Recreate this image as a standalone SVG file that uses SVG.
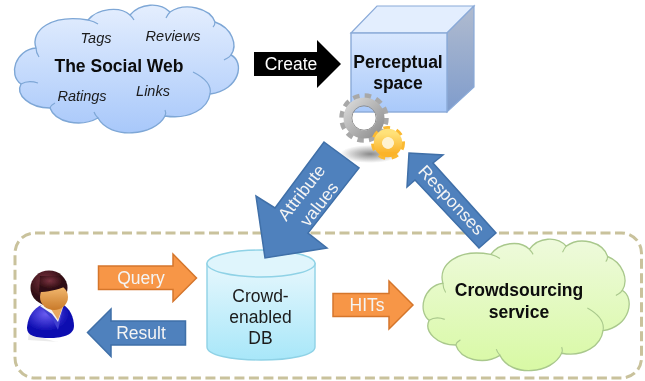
<svg xmlns="http://www.w3.org/2000/svg" width="645" height="381" viewBox="0 0 645 381">
<style>
text{font-family:"Liberation Sans",Arial,sans-serif;text-anchor:middle}
.b{font-weight:bold;font-size:17.5px;fill:#0a0a0a}
.i{font-style:italic;font-size:14.5px;fill:#1a1a1a}
.w{font-size:17.500px;fill:#f4f4f4}
.n{font-size:17.500px;fill:#1a1a1a}
.blue{fill:#4f81bd;stroke:#3f6fa8;stroke-width:1.5}
.or{fill:#f79646;stroke:#d5762c;stroke-width:1.5}
.crease{fill:none;stroke-width:1.2}
</style>
<defs>
<linearGradient id="cb" x1="0" y1="0" x2="0" y2="1"><stop offset="0" stop-color="#e4eefe"/><stop offset="1" stop-color="#a8c8fa"/></linearGradient>
<linearGradient id="cg" x1="0" y1="0" x2="0" y2="1"><stop offset="0" stop-color="#eefadc"/><stop offset="1" stop-color="#d8f9a4"/></linearGradient>
<linearGradient id="fr" x1="0" y1="0" x2="0" y2="1"><stop offset="0" stop-color="#d8e7fe"/><stop offset="1" stop-color="#a9c9fa"/></linearGradient>
<linearGradient id="sd" x1="0" y1="0" x2="0" y2="1"><stop offset="0" stop-color="#b0bbcf"/><stop offset="1" stop-color="#7f9ccc"/></linearGradient>
<linearGradient id="cy" x1="0" y1="0" x2="0" y2="1"><stop offset="0" stop-color="#e6f7fd"/><stop offset="1" stop-color="#a8e7f9"/></linearGradient>
<radialGradient id="sh"><stop offset="0" stop-color="#8a8a8a"/><stop offset="1" stop-color="#8a8a8a" stop-opacity="0"/></radialGradient>
<linearGradient id="gy" x1="0" y1="0" x2="1" y2="1"><stop offset="0" stop-color="#d8d8d8"/><stop offset="1" stop-color="#8f8f8f"/></linearGradient>
<linearGradient id="yl" x1="0" y1="0" x2="0" y2="1"><stop offset="0" stop-color="#ffe27a"/><stop offset="1" stop-color="#fbb32a"/></linearGradient>
<radialGradient id="hr" cx="0.4" cy="0.3"><stop offset="0" stop-color="#7a3340"/><stop offset="1" stop-color="#2e0c12"/></radialGradient>
<linearGradient id="fc" x1="0" y1="0" x2="0" y2="1"><stop offset="0" stop-color="#f7c078"/><stop offset="1" stop-color="#c97a2a"/></linearGradient>
<radialGradient id="bd" cx="0.4" cy="0.3"><stop offset="0" stop-color="#6a5cf0"/><stop offset="1" stop-color="#0c0cb0"/></radialGradient>
<filter id="soft" x="-5%" y="-5%" width="110%" height="110%"><feGaussianBlur stdDeviation="0.45"/></filter>
<path id="cloud" d="M36 48C30 30 52 14 88 20C98 8 120 6 130 15C140 3 160 2 170 12C185 2 210 8 215 22C232 28 238 45 231 55C245 62 240 90 210 94C208 108 190 120 165 116C155 136 110 140 98 118C80 128 55 122 50 108C30 108 15 95 21 84C8 75 15 50 36 48Z"/>
<path id="folds" d="M36 48C36 51 37 54 39 57M21 84C26 81 32 81 38 83M50 108C51 105 53 104 55 103M98 118C96 116 95 115 94 112M165 116C166 114 166 112 165 110M193 72C205 78 212 85 210 94M231 55C229 58 227 58 224 60M215 22C215 24 214 26 213 27M170 12C168 14 167 16 166 18M130 15C132 17 133 18 134 20M88 20C92 21 95 22 98 24"/>
</defs>
<g filter="url(#soft)">
<g id="boundary"><rect x="15" y="233" width="626.500" height="145" rx="20" fill="none" stroke="#c9c29c" stroke-width="3" stroke-dasharray="10 4.500"/></g>

<g id="social-web">
<use href="#cloud" fill="url(#cb)" stroke="#7ea7d6" stroke-width="1.400"/>
<use href="#folds" class="crease" stroke="#7ea7d6"/>
<text class="b" x="119" y="72">The Social Web</text>
<text class="i" x="96" y="43">Tags</text>
<text class="i" x="173" y="41">Reviews</text>
<text class="i" x="82" y="101">Ratings</text>
<text class="i" x="153" y="96">Links</text>
</g>

<g id="perceptual-space">
<path d="M351 33L377 6H474L447 33Z" fill="#e3eefe" stroke="#8aaad8" stroke-width="1.200"/>
<path d="M447 33L474 6V87L447 112Z" fill="url(#sd)" stroke="#8aaad8" stroke-width="1.200"/>
<rect x="351" y="33" width="96" height="79" fill="url(#fr)" stroke="#8aaad8" stroke-width="1.400"/>
<text class="b" x="398" y="68">Perceptual</text>
<text class="b" x="398" y="89">space</text>
</g>

<g id="gears">
<ellipse cx="370" cy="154" rx="30" ry="9" fill="url(#sh)"/>
<circle cx="364" cy="118" r="21.500" fill="none" stroke="#a8a8a8" stroke-width="6.500" stroke-dasharray="6.200 5.060"/>
<circle cx="364" cy="118" r="16.500" fill="none" stroke="url(#gy)" stroke-width="8"/>
<circle cx="364" cy="118" r="12.200" fill="none" stroke="#8f8f8f" stroke-width="1"/>
<circle cx="388" cy="143" r="14.500" fill="none" stroke="#fbb930" stroke-width="5" stroke-dasharray="6.400 6.300"/>
<circle cx="388" cy="143" r="10" fill="none" stroke="url(#yl)" stroke-width="8.500"/>
<circle cx="388" cy="143" r="5.700" fill="#fff3d0"/>
</g>

<g id="user">
<path d="M30 320C30 340 60 342 60 342L28 340Z" fill="#dcdcdc" opacity="0.6"/>
<path d="M27 328C28 312 38 306 44 304H62C70 308 74 318 74 326C74 336 60 338 50 338C36 338 27 336 27 328Z" fill="url(#bd)"/>
<path d="M40 306L53 320L58 330L64 304Z" fill="#3f3fd0"/>
<path d="M40 306L52 314L58 322L64 304L50 300Z" fill="#f4f4f4"/>
<path d="M49 306L58 320L63 306Z" fill="#e8a860"/>
<ellipse cx="49" cy="288" rx="18.500" ry="17.500" fill="url(#hr)"/>
<ellipse cx="54" cy="297" rx="14" ry="13" fill="url(#fc)"/>
<path d="M39 292C46 292 58 290 66 286L60 276H40Z" fill="url(#hr)"/>
</g>

<g id="crowd-db">
<path d="M207 263.500V347C207 355 231 360 261 360C291 360 315 355 315 347V263.500Z" fill="url(#cy)" stroke="#8fd2e6" stroke-width="1.400"/>
<ellipse cx="261" cy="263.500" rx="54" ry="13.500" fill="#dff5fc" stroke="#8fd2e6" stroke-width="1.400"/>
<text class="n" x="260.500" y="302">Crowd-</text>
<text class="n" x="260.500" y="323">enabled</text>
<text class="n" x="260.500" y="344">DB</text>
</g>

<g id="crowdsourcing-service">
<g transform="translate(409.800 233.800) scale(0.92 1.03)">
<use href="#cloud" fill="url(#cg)" stroke="#a9c88c" stroke-width="1.400"/>
<use href="#folds" class="crease" stroke="#a9c88c"/>
</g>
<text class="b" x="519" y="296">Crowdsourcing</text>
<text class="b" x="519" y="318">service</text>
</g>

<g id="connectors">
<path d="M254 52H317V40L341 64L317 88V76H254Z" fill="#000"/>
<text class="w" x="291" y="70" style="fill:#fff">Create</text>
<path class="blue" d="M324 142L359 168L308 233L327 248L265 258L256 196L275 208Z"/>
<text class="w" transform="translate(301.500 192.500) rotate(-52)" y="6">Attribute</text>
<text class="w" transform="translate(319 204) rotate(-52)" y="6">values</text>
<path class="blue" d="M496 233L479 248L415 180L407 187L409 153L443 155L433 163Z"/>
<text class="w" transform="translate(451.500 200) rotate(47)" y="6">Responses</text>
<path class="or" d="M98.500 266H173V254L196.500 278L173 301.500V289.500H98.500Z"/>
<text class="w" x="141" y="284">Query</text>
<path class="blue" d="M185.500 321V345H111V356.500L87.500 332.500L111 309V321Z"/>
<text class="w" x="141" y="339">Result</text>
<path class="or" d="M333 293.500H389V281L413 305L389 329V316.500H333Z"/>
<text class="w" x="367" y="311">HITs</text>
</g>
</g>
</svg>
